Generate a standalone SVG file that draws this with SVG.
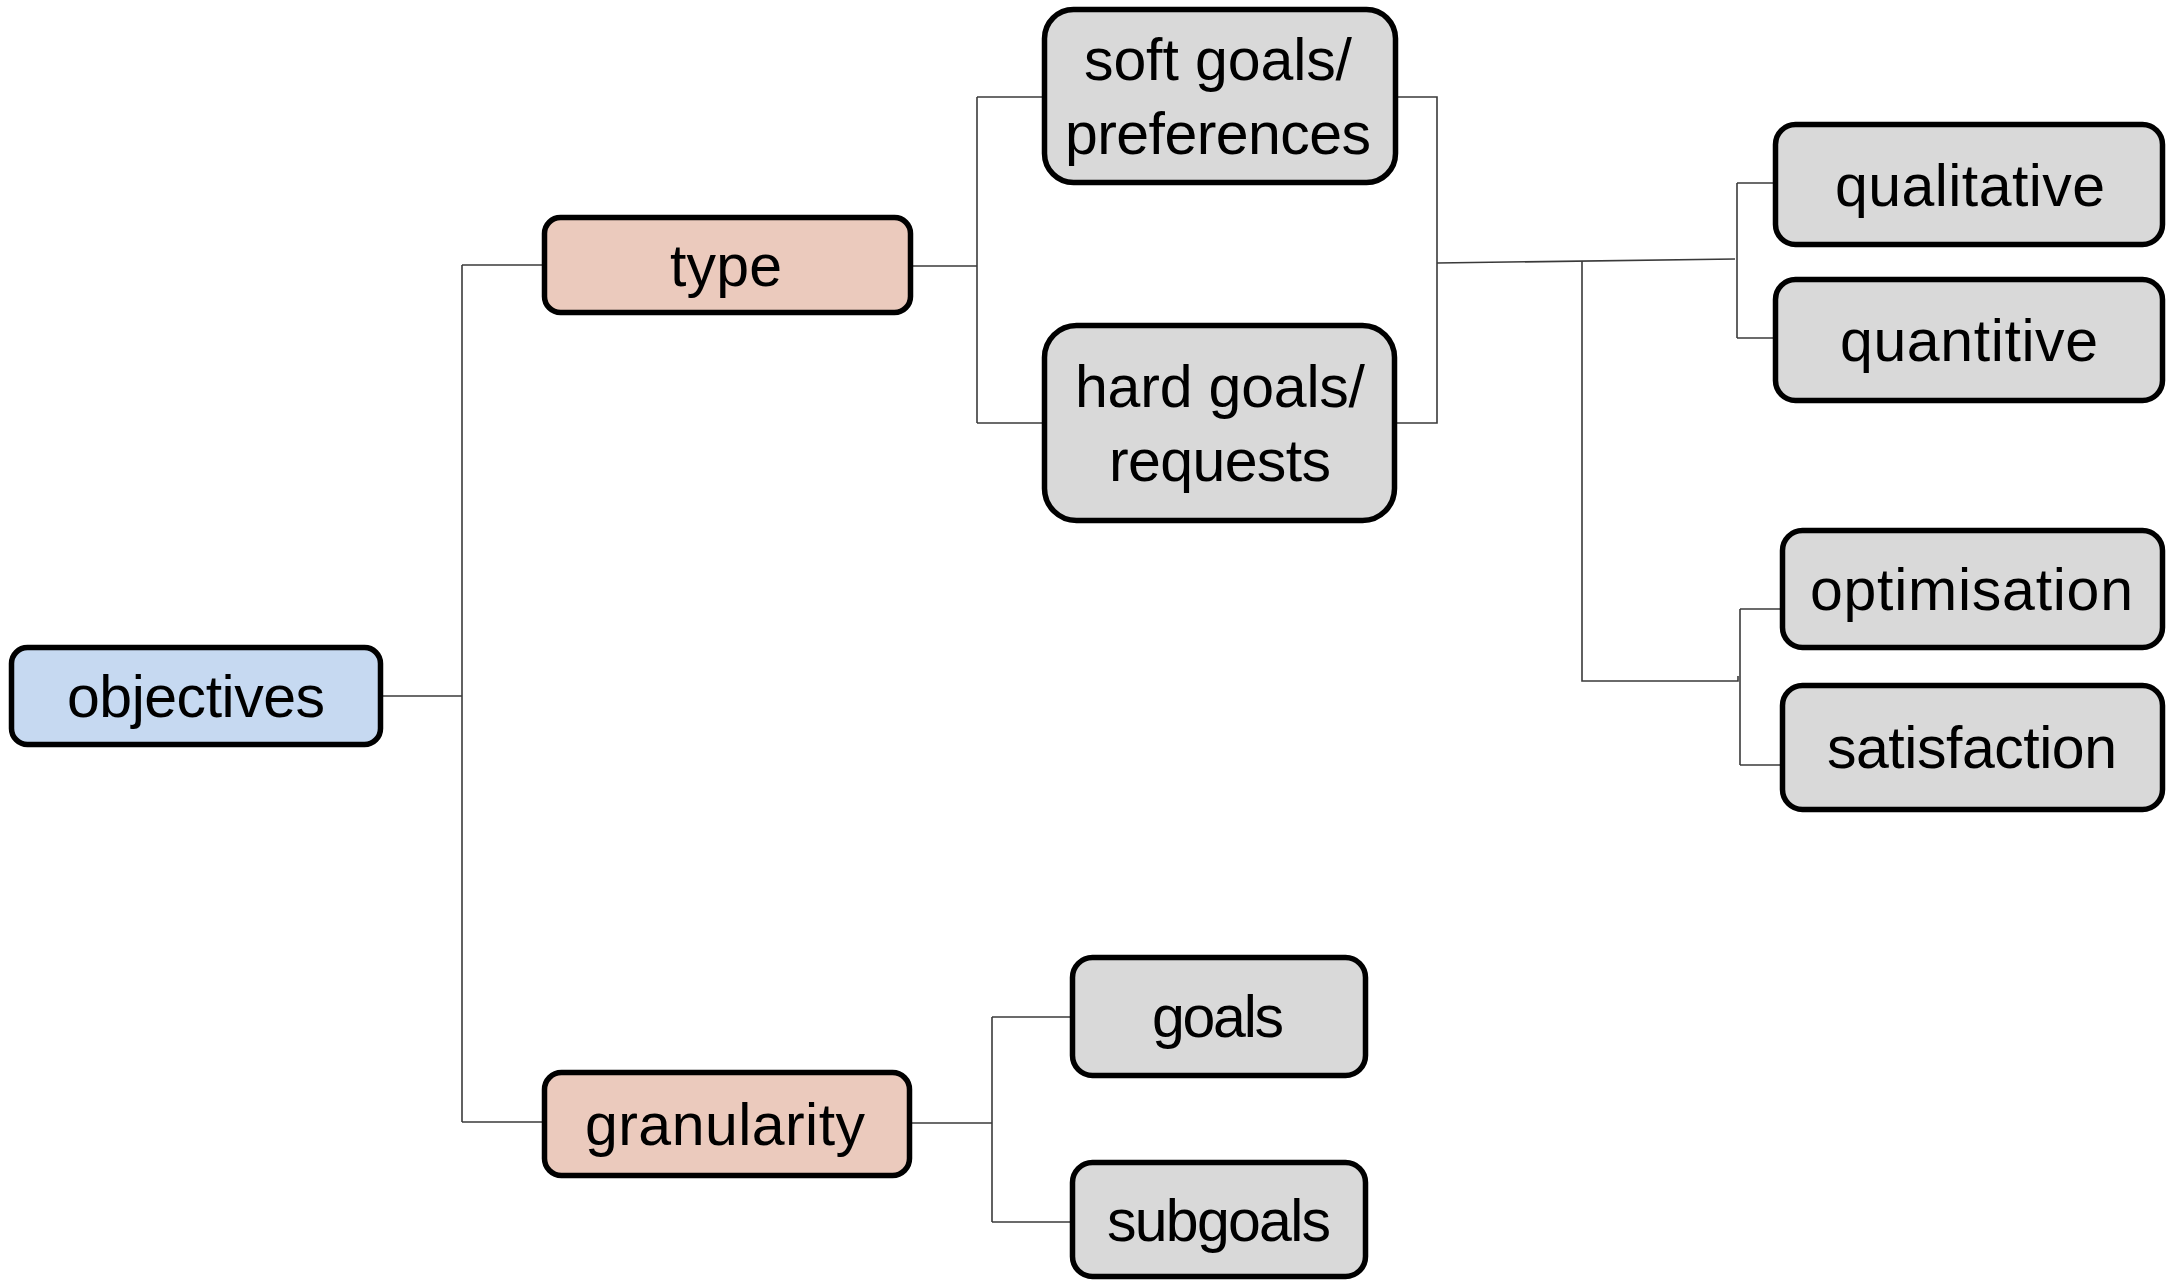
<svg xmlns="http://www.w3.org/2000/svg" width="2180" height="1281" viewBox="0 0 2180 1281">
  <style>
    .box { stroke: #000; stroke-width: 5.5; }
    .root { fill: #C6D9F1; }
    .cat { fill: #EBCABD; }
    .leaf { fill: #D9D9D9; }
    .lbl { font-family: "Liberation Sans", Arial, sans-serif; font-size: 59px; fill: #000; text-anchor: middle; }
    .wire { fill: none; stroke: #3a3a3a; stroke-width: 1.6; }
  </style>
  <rect width="2180" height="1281" fill="#fff"/>

  <!-- tree connectors -->
  <g id="connectors" class="wire">
    <path d="M383,696 H462"/>
    <path d="M462,265 V1122"/>
    <path d="M462,265 H542"/>
    <path d="M462,1122 H542"/>
    <path d="M913,266 H977"/>
    <path d="M977,97 V423"/>
    <path d="M977,97 H1042"/>
    <path d="M977,423 H1042"/>
    <path d="M1398,97 H1437 V423 H1397"/>
    <path d="M1437,263 L1735,259"/>
    <path d="M1582,261 V681 H1738 V676"/>
    <path d="M1737,183 V338"/>
    <path d="M1737,183 H1773"/>
    <path d="M1737,338 H1773"/>
    <path d="M1740,609 V765"/>
    <path d="M1740,609 H1780"/>
    <path d="M1740,765 H1780"/>
    <path d="M912,1123 H992"/>
    <path d="M992,1017 V1222"/>
    <path d="M992,1017 H1070"/>
    <path d="M992,1222 H1070"/>
  </g>

  <g id="objectives">
    <rect class="box root" x="11.5" y="647.5" width="369" height="97" rx="16"/>
    <text class="lbl" x="196" y="717" textLength="258" lengthAdjust="spacing">objectives</text>
  </g>

  <g id="type">
    <rect class="box cat" x="544.5" y="217.5" width="366" height="95" rx="16"/>
    <text class="lbl" x="726" y="286" textLength="112" lengthAdjust="spacing">type</text>
  </g>

  <g id="granularity">
    <rect class="box cat" x="544.5" y="1072.5" width="365" height="103" rx="17"/>
    <text class="lbl" x="725" y="1145" textLength="280" lengthAdjust="spacing">granularity</text>
  </g>

  <g id="soft-goals">
    <rect class="box leaf" x="1044.5" y="9.5" width="351" height="173" rx="29"/>
    <text class="lbl" x="1218" y="80" textLength="268" lengthAdjust="spacing">soft goals/</text>
    <text class="lbl" x="1218" y="154" textLength="306" lengthAdjust="spacing">preferences</text>
  </g>

  <g id="hard-goals">
    <rect class="box leaf" x="1044.5" y="325.5" width="350" height="195" rx="32"/>
    <text class="lbl" x="1220" y="407" textLength="290" lengthAdjust="spacing">hard goals/</text>
    <text class="lbl" x="1220" y="481" textLength="222" lengthAdjust="spacing">requests</text>
  </g>

  <g id="goals">
    <rect class="box leaf" x="1072.5" y="957.5" width="293" height="118" rx="20"/>
    <text class="lbl" x="1218" y="1037" textLength="132" lengthAdjust="spacing">goals</text>
  </g>

  <g id="subgoals">
    <rect class="box leaf" x="1072.5" y="1162.5" width="293" height="114" rx="20"/>
    <text class="lbl" x="1219" y="1241" textLength="224" lengthAdjust="spacing">subgoals</text>
  </g>

  <g id="qualitative">
    <rect class="box leaf" x="1775.5" y="124.5" width="387" height="120" rx="20"/>
    <text class="lbl" x="1970" y="206" textLength="270" lengthAdjust="spacing">qualitative</text>
  </g>

  <g id="quantitive">
    <rect class="box leaf" x="1775.5" y="279.5" width="387" height="121" rx="20"/>
    <text class="lbl" x="1969" y="361" textLength="258" lengthAdjust="spacing">quantitive</text>
  </g>

  <g id="optimisation">
    <rect class="box leaf" x="1782.5" y="530.5" width="380" height="117" rx="20"/>
    <text class="lbl" x="1971.5" y="610" textLength="323" lengthAdjust="spacing">optimisation</text>
  </g>

  <g id="satisfaction">
    <rect class="box leaf" x="1782.5" y="685.5" width="380" height="124" rx="20"/>
    <text class="lbl" x="1972" y="768" textLength="290" lengthAdjust="spacing">satisfaction</text>
  </g>
</svg>
